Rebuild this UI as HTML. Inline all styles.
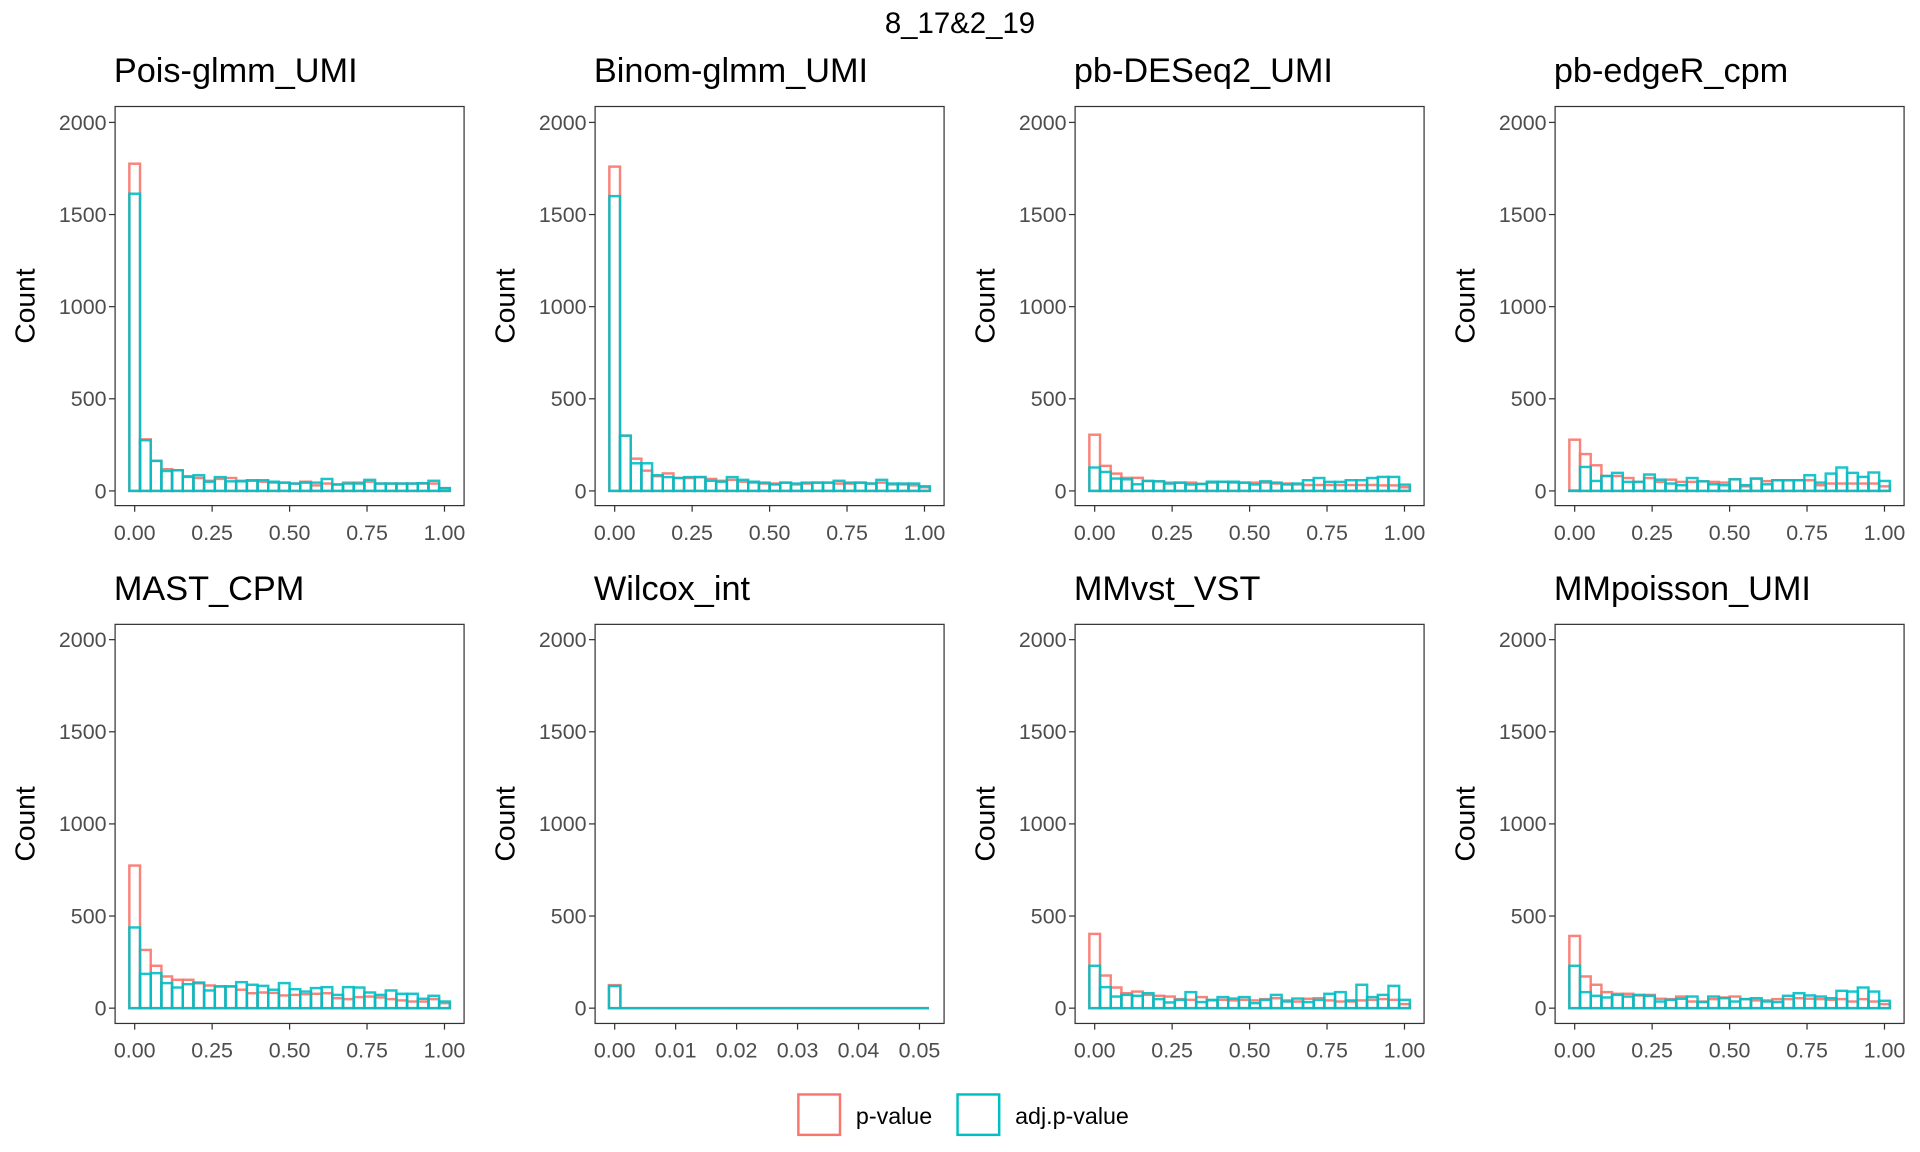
<!DOCTYPE html>
<html><head><meta charset="utf-8"><style>
html,body{margin:0;padding:0;background:#fff;}
svg{display:block;font-family:"Liberation Sans",Arial,sans-serif;}
</style></head><body>
<svg id="chart" width="1920" height="1152" viewBox="0 0 1568 941" preserveAspectRatio="none" xmlns="http://www.w3.org/2000/svg">
<rect width="1568" height="941" fill="#fff"/>
<text x="784" y="27" font-size="24" text-anchor="middle" fill="#000">8_17&amp;2_19</text>
<g id="panels"></g>
<g>
<rect x="652" y="894" width="34" height="33" fill="#fff" stroke="#F8766D" stroke-width="2"/>
<text x="699" y="918" font-size="19" fill="#000">p-value</text>
<rect x="782" y="894" width="34" height="33" fill="#fff" stroke="#00BFC4" stroke-width="2"/>
<text x="829" y="918" font-size="19" fill="#000">adj.p-value</text>
</g>
</svg>
<script>
const panelTitles = ["Pois-glmm_UMI","Binom-glmm_UMI","pb-DESeq2_UMI","pb-edgeR_cpm","MAST_CPM","Wilcox_int","MMvst_VST","MMpoisson_UMI"];
const yTicks = [0,500,1000,1500,2000];
const xTicksUnit = [0,0.25,0.5,0.75,1];
const xTickLabelsUnit = ["0.00","0.25","0.50","0.75","1.00"];
const xTicksWilcox = [0,0.01,0.02,0.03,0.04,0.05];
const xTickLabelsWilcox = ["0.00","0.01","0.02","0.03","0.04","0.05"];
const pvalPois = [1776,280,163,118,112,80,70,55,65,70,55,55,50,45,45,40,50,30,40,35,45,45,50,40,40,40,40,40,40,15];
const adjPois = [1613,275,163,108,112,76,85,50,75,52,52,58,58,50,45,40,45,45,65,35,40,40,60,40,40,40,40,42,55,15];
const pvalBinom = [1760,300,175,110,80,95,70,70,75,65,55,60,50,45,40,40,45,35,40,45,45,40,40,45,40,45,35,35,30,20];
const adjBinom = [1600,300,150,150,85,75,70,75,75,55,50,75,60,50,45,35,45,40,45,45,45,55,45,45,40,60,40,40,40,25];
const pvalDESeq = [305,136,94,71,71,54,52,45,45,45,38,45,48,45,45,45,45,40,40,35,32,32,32,32,32,32,32,30,30,20];
const adjDESeq = [127,103,67,63,36,54,52,40,45,35,38,50,50,50,45,35,52,45,35,40,58,70,49,49,58,58,70,76,76,34];
const pvalEdge = [278,200,139,81,81,70,49,70,49,61,49,49,52,49,45,63,25,67,53,58,58,58,58,31,40,40,40,40,40,25];
const adjEdge = [2,130,54,81,98,49,49,89,61,40,31,70,52,36,31,63,31,67,36,58,58,58,85,45,94,127,98,76,100,54];
const pvalMAST = [774,316,230,172,154,154,135,123,118,118,100,81,85,83,69,72,76,78,81,54,49,60,63,58,49,42,36,36,49,27];
const adjMAST = [438,186,190,136,112,130,139,96,118,118,141,127,121,100,136,103,90,109,114,72,114,112,85,72,96,78,78,51,67,36];
const pvalWilcox = [125,0,0,0,0,0,0,0,0,0,0,0,0,0,0,0,0,0,0,0,0,0,0,0,0,0,0,0];
const adjWilcox = [120,0,0,0,0,0,0,0,0,0,0,0,0,0,0,0,0,0,0,0,0,0,0,0,0,0,0,0];
const pvalVST = [403,177,112,81,90,72,67,63,49,45,60,42,45,42,45,42,49,54,42,36,51,54,42,36,36,42,45,49,45,22];
const adjVST = [230,114,63,72,67,81,49,31,45,87,33,45,60,52,60,27,45,72,36,52,33,45,78,87,42,127,60,72,121,45];
const pvalPoisUMI = [392,172,127,87,78,78,69,72,51,49,63,36,36,49,58,63,49,42,42,49,49,54,51,49,45,49,36,49,36,22];
const adjPoisUMI = [230,87,67,58,72,63,72,67,36,45,51,63,33,63,54,36,49,54,36,33,67,81,69,63,54,94,90,112,90,40];

const pvalSeries = [pvalPois,pvalBinom,pvalDESeq,pvalEdge,pvalMAST,pvalWilcox,pvalVST,pvalPoisUMI];
const adjSeries = [adjPois,adjBinom,adjDESeq,adjEdge,adjMAST,adjWilcox,adjVST,adjPoisUMI];

const NS="http://www.w3.org/2000/svg";
const root=document.getElementById('panels');
function mk(tag,attrs,parent){const e=document.createElementNS(NS,tag);for(const k in attrs)e.setAttribute(k,attrs[k]);parent.appendChild(e);return e;}

for(let p=0;p<8;p++){
  const col=p%4,row=Math.floor(p/4);
  const L=94+col*392,R=L+285,T=row===0?87:510,B=T+326;
  const y0=row===0?401:823.5;
  const ys=v=>y0-v*(301/2000);
  const wil=(p===5);
  let xs,binStart,binW,xt,xl;
  if(wil){xs=x=>L+16+x*4978;binStart=-0.00094;binW=0.001875;xt=xTicksWilcox;xl=xTickLabelsWilcox;}
  else{xs=x=>L+16+x*253;binW=1/29;binStart=-binW/2;xt=xTicksUnit;xl=xTickLabelsUnit;}
  const g=mk('g',{},root);
  
  
  const tt=mk('text',{x:L-1,y:row===0?67:490,'font-size':28,fill:'#000'},g);tt.textContent=panelTitles[p];
  
  
  const yl=mk('text',{x:0,y:0,'font-size':23,fill:'#000','text-anchor':'middle',transform:`translate(${L-66},${(T+B)/2}) rotate(-90)`},g);yl.textContent='Count';
  
  
  yTicks.forEach(v=>{
    const y=ys(v);
    const tl=mk('line',{x1:L-5,x2:L,y1:y,y2:y,stroke:'#333','stroke-width':1},g);
    
    
    const t=mk('text',{x:L-7,y:y+6,'font-size':17.5,fill:'#4d4d4d','text-anchor':'end'},g);t.textContent=v;
    
    
  });
  xt.forEach((v,i)=>{
    const x=xs(v);
    const tl=mk('line',{x1:x,x2:x,y1:B,y2:B+5,stroke:'#333','stroke-width':1},g);
    
    
    const t=mk('text',{x:x,y:B+28,'font-size':17.5,fill:'#4d4d4d','text-anchor':'middle'},g);t.textContent=xl[i];
    
    
  });
  [[pvalSeries[p],'#F8766D','p-value'],[adjSeries[p],'#00BFC4','adj-p-value']].forEach(([arr,color,nm])=>{
    arr.forEach((v,i)=>{
      const x1=xs(binStart+i*binW),x2=xs(binStart+(i+1)*binW);
      let r;
      if(v>0){
        r=mk('rect',{x:x1,y:ys(v),width:x2-x1,height:y0-ys(v),fill:'none',stroke:color,'stroke-width':2,'stroke-opacity':0.9},g);
      } else {
        r=mk('line',{x1:x1,x2:x2,y1:y0,y2:y0,stroke:color,'stroke-width':2,'stroke-opacity':0.9},g);
      }
      
      
    });
  });
  const fr=mk('rect',{x:L,y:T,width:R-L,height:B-T,fill:'none',stroke:'#333','stroke-width':1},g);
  
  
}
</script>
</body></html>
